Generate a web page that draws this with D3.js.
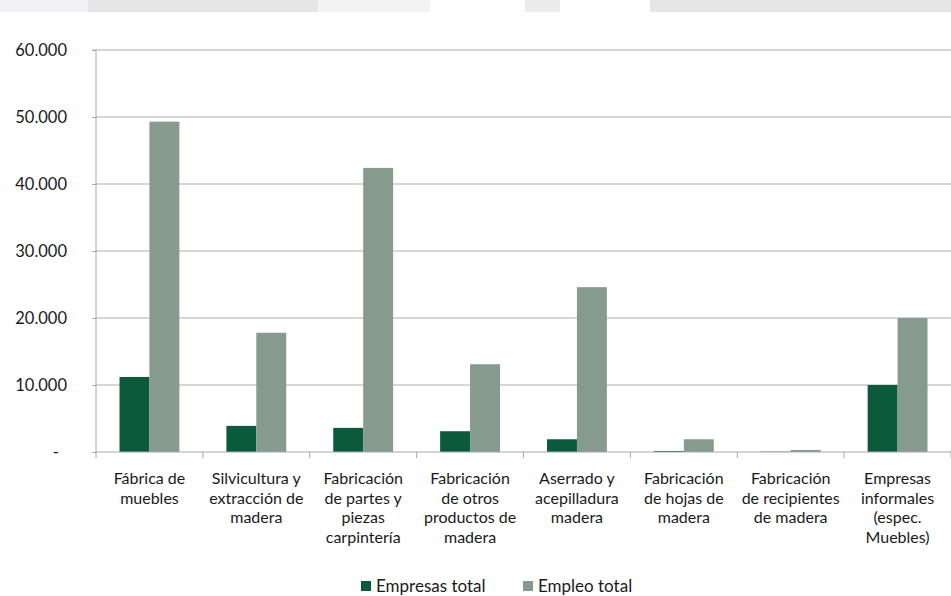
<!DOCTYPE html>
<html>
<meta charset="utf-8">
<title>Empresas y empleo</title>
<style>
html, body { margin: 0; padding: 0; background: #fff; }
body { width: 951px; height: 596px; overflow: hidden; }
text { font-family: Lato, "Open Sans", sans-serif; fill: #1a1a1a; }
.grid line { stroke: #c8c8c8; stroke-width: 1.6; }
.axis path, .axis line { stroke: #a8a8a8; }
</style>
<body>
<div id="chart"></div>
<script src="https://cdn.jsdelivr.net/npm/d3@7"></script>
<script>
var categories = [
  ["Fábrica de", "muebles"],
  ["Silvicultura y", "extracción de", "madera"],
  ["Fabricación", "de partes y", "piezas", "carpintería"],
  ["Fabricación", "de otros", "productos de", "madera"],
  ["Aserrado y", "acepilladura", "madera"],
  ["Fabricación", "de hojas de", "madera"],
  ["Fabricación", "de recipientes", "de madera"],
  ["Empresas", "informales", "(espec.", "Muebles)"]
];
var seriesNames = ["Empresas total", "Empleo total"];
var empresas = [11200, 3900, 3600, 3100, 1900, 150, 50, 10000];
var empleo = [49300, 17800, 42400, 13100, 24600, 1900, 300, 20000];
var yTicks = [0, 10000, 20000, 30000, 40000, 50000, 60000];
var colors = ["#0b5a3b", "#869a8e"];

var W = 951, H = 596;
var margin = {top: 50, right: 0, bottom: 144, left: 96};
var width = W - margin.left - margin.right,
    height = H - margin.top - margin.bottom;

var svg = d3.select("#chart").append("svg")
    .attr("width", W)
    .attr("height", H);

// faint grey strip at the very top of the scan
var strip = [[0, 88, "#f0f1f4"], [88, 318, "#e6e6e8"], [318, 430, "#f2f3f5"], [525, 560, "#ececee"], [650, 951, "#e6e6e8"]];
svg.append("g").selectAll("rect").data(strip).enter().append("rect")
    .attr("x", function(d) { return d[0]; })
    .attr("width", function(d) { return d[1] - d[0]; })
    .attr("y", 0).attr("height", 12)
    .attr("fill", function(d) { return d[2]; });

var g = svg.append("g")
    .attr("transform", "translate(" + margin.left + "," + margin.top + ")");

var x0 = d3.scaleBand()
    .domain(d3.range(categories.length))
    .range([0, width])
    .paddingInner(0.44)
    .paddingOuter(0.22);
var x1 = d3.scaleBand()
    .domain([0, 1])
    .range([0, x0.bandwidth()]);
var y = d3.scaleLinear()
    .domain([0, 60000])
    .range([height, 0]);

var fmt = function(d) {
  return d === 0 ? "-" : d3.format(",")(d).replace(/,/g, ".");
};

// gridlines
g.append("g").attr("class", "grid")
  .selectAll("line").data(yTicks.slice(1)).enter().append("line")
    .attr("x1", 0).attr("x2", width)
    .attr("y1", function(d) { return y(d); })
    .attr("y2", function(d) { return y(d); });

// y axis
var yAxis = g.append("g").attr("class", "axis")
    .call(d3.axisLeft(y).tickValues(yTicks).tickSize(4).tickFormat(fmt));
yAxis.select(".domain").attr("d", "M-4," + y(60000) + "H0V" + height);
yAxis.selectAll("text")
    .attr("x", -29)
    .style("font-size", "16.5px")
    .style("font-family", "Lato, 'Open Sans', sans-serif")
    .attr("fill", "#1a1a1a")
    .filter(function(d) { return d === 0; })
    .attr("x", -37);

// bars
var groups = g.append("g").selectAll("g")
    .data(categories.map(function(c, i) { return [empresas[i], empleo[i]]; }))
    .enter().append("g")
    .attr("transform", function(d, i) { return "translate(" + x0(i) + ",0)"; });
groups.selectAll("rect")
    .data(function(d) { return d; })
    .enter().append("rect")
    .attr("x", function(d, j) { return x1(j); })
    .attr("width", x1.bandwidth())
    .attr("y", function(d) { return y(d); })
    .attr("height", function(d) { return height - y(d); })
    .attr("fill", function(d, j) { return colors[j]; });

// x axis baseline and category ticks
var step = x0.step();
var xb = g.append("g").attr("class", "axis")
    .attr("transform", "translate(0," + height + ")");
xb.append("line").attr("x1", 0).attr("x2", width).attr("y1", 0).attr("y2", 0)
    .attr("stroke", "#a8a8a8");
xb.selectAll(".tk").data(d3.range(categories.length + 1)).enter().append("line")
    .attr("class", "tk")
    .attr("x1", function(i) { return i * step; })
    .attr("x2", function(i) { return i * step; })
    .attr("y1", 0).attr("y2", 6)
    .attr("stroke", "#a8a8a8");

// category labels
var lab = g.append("g").selectAll("text")
    .data(categories).enter().append("text")
    .attr("text-anchor", "middle")
    .attr("transform", function(d, i) {
      return "translate(" + (x0(i) + x0.bandwidth() / 2) + "," + (height + 32) + ")";
    })
    .style("font-size", "16px");
lab.selectAll("tspan")
    .data(function(d) { return d; })
    .enter().append("tspan")
    .attr("x", 0)
    .attr("dy", function(d, k) { return k === 0 ? 0 : 19.5; })
    .text(function(d) { return d; });

// legend
var legend = svg.append("g").attr("transform", "translate(361,586)");
var lx = [0, 162];
var li = legend.selectAll("g").data(seriesNames).enter().append("g")
    .attr("transform", function(d, i) { return "translate(" + lx[i] + ",0)"; });
li.append("rect")
    .attr("x", 0).attr("y", -5).attr("width", 10).attr("height", 10)
    .attr("fill", function(d, i) { return colors[i]; });
li.append("text")
    .attr("x", 15).attr("y", 6)
    .style("font-size", "17px")
    .text(function(d) { return d; });
</script>
</body>
</html>
